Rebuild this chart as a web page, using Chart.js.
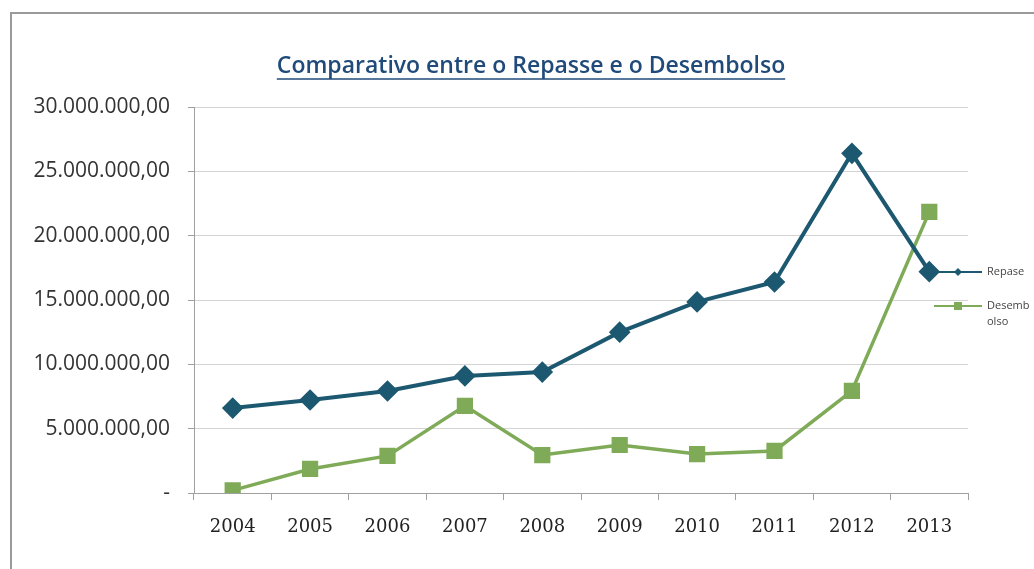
<!DOCTYPE html>
<html>
<head>
<meta charset="utf-8">
<script src="https://cdn.jsdelivr.net/npm/chart.js@4/dist/chart.umd.min.js"></script>
<style>
  html, body { margin: 0; padding: 0; background: #fff; }
  #wrap { width: 1034px; height: 569px; position: relative; }
</style>
</head>
<body>
<div id="wrap"><canvas id="chart" width="1034" height="569"></canvas></div>
<script>
const years = ["2004", "2005", "2006", "2007", "2008", "2009", "2010", "2011", "2012", "2013"];
const repasse = [6600000, 7230000, 7930000, 9100000, 9400000, 12500000, 14850000, 16400000, 26400000, 17200000];
const desembolso = [200000, 1870000, 2880000, 6770000, 2950000, 3730000, 3030000, 3270000, 7930000, 21850000];
const yTicks = [0, 5000000, 10000000, 15000000, 20000000, 25000000, 30000000];
const legendLines = [["Repase"], ["Desemb", "olso"]];
const title = "Comparativo entre o Repasse e o Desembolso";

const blue = "#1d5871";
const green = "#7fab58";

function fmt(v) {
  if (v === 0) return "-";
  return v.toLocaleString("de-DE", { minimumFractionDigits: 2, maximumFractionDigits: 2 });
}

// frame, title and legend drawn straight on the canvas
const decor = {
  id: "decor",
  beforeDraw(chart) {
    const c = chart.ctx;
    c.save();
    c.strokeStyle = "#9a9a9a";
    c.lineWidth = 2;
    c.beginPath();
    c.moveTo(11, 600);
    c.lineTo(11, 13);
    c.lineTo(1040, 13);
    c.stroke();
    c.restore();
  },
  afterDraw(chart) {
    const c = chart.ctx;
    c.save();
    // title
    c.font = "600 23px 'Open Sans'";
    c.fillStyle = "#1f4a7a";
    c.textAlign = "center";
    c.textBaseline = "alphabetic";
    c.fillText(title, 531, 73);
    const w = c.measureText(title).width;
    c.strokeStyle = "#1f4a7a";
    c.lineWidth = 1.5;
    c.beginPath();
    c.moveTo(531 - w / 2, 79);
    c.lineTo(531 + w / 2, 79);
    c.stroke();

    // legend
    const items = [
      { color: blue, style: "diamond", y: 272 },
      { color: green, style: "square", y: 306 }
    ];
    c.font = "11px 'Open Sans'";
    c.textAlign = "left";
    c.textBaseline = "middle";
    items.forEach((it, i) => {
      c.strokeStyle = it.color;
      c.fillStyle = it.color;
      c.lineWidth = 2;
      c.beginPath();
      c.moveTo(934, it.y);
      c.lineTo(982, it.y);
      c.stroke();
      if (it.style === "diamond") {
        c.beginPath();
        c.moveTo(958, it.y - 4);
        c.lineTo(962, it.y);
        c.lineTo(958, it.y + 4);
        c.lineTo(954, it.y);
        c.closePath();
        c.fill();
      } else {
        c.fillRect(954, it.y - 4, 8, 8);
      }
      c.fillStyle = "#444";
      legendLines[i].forEach((t, k) => c.fillText(t, 987, it.y + k * 16));
    });
    c.restore();
  }
};

new Chart(document.getElementById("chart"), {
  type: "line",
  data: {
    labels: years,
    datasets: [
      {
        label: "Repasse",
        data: repasse,
        borderColor: blue,
        backgroundColor: blue,
        borderWidth: 4,
        pointStyle: "rectRot",
        pointRadius: 8,
        pointHoverRadius: 8,
        tension: 0
      },
      {
        label: "Desembolso",
        data: desembolso,
        borderColor: green,
        backgroundColor: green,
        borderWidth: 3.5,
        pointStyle: "rect",
        pointRadius: 9,
        pointHoverRadius: 9,
        tension: 0
      }
    ]
  },
  options: {
    responsive: false,
    animation: false,
    layout: { padding: { left: 12, right: 66, top: 107, bottom: 0 } },
    plugins: {
      legend: { display: false },
      tooltip: { enabled: false }
    },
    scales: {
      x: {
        offset: true,
        grid: {
          offset: true,
          drawOnChartArea: false,
          color: "#a0a0a0",
          tickLength: 7
        },
        border: { color: "#a0a0a0", width: 1 },
        ticks: {
          color: "#222",
          font: { family: "'DejaVu Serif'", size: 18 },
          padding: 17
        },
        afterFit(s) { s.height = 76; }
      },
      y: {
        min: 0,
        max: 30000000,
        afterBuildTicks(s) { s.ticks = yTicks.map(v => ({ value: v })); },
        grid: {
          color: "#d4d4d4",
          tickLength: 6,
          tickColor: "#a0a0a0"
        },
        border: { color: "#a0a0a0", width: 1 },
        ticks: {
          color: "#333",
          font: { family: "'Open Sans'", size: 21 },
          padding: 18,
          callback: v => fmt(v)
        },
        afterFit(s) { s.width = 182; }
      }
    }
  },
  plugins: [decor]
});
</script>
</body>
</html>
